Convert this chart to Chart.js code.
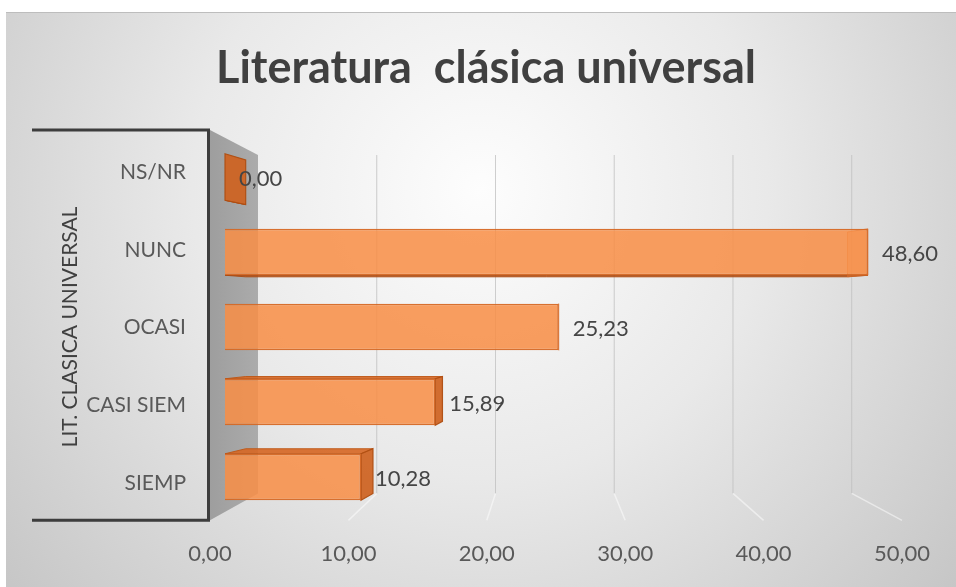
<!DOCTYPE html>
<html>
<head>
<meta charset="utf-8">
<script src="https://cdn.jsdelivr.net/npm/chart.js@4.4.1/dist/chart.umd.min.js"></script>
<style>
  html, body { margin: 0; padding: 0; background: #ffffff; }
  #c { display: block; }
</style>
</head>
<body>
<canvas id="c" width="956" height="587"></canvas>
<script>
// ---- data ----
const categories = ['NS/NR', 'NUNC', 'OCASI', 'CASI SIEM', 'SIEMP'];
const values = [0.00, 48.60, 25.23, 15.89, 10.28];
const xTicks = [0, 10, 20, 30, 40, 50];
const chartTitle = 'Literatura  clásica universal';
const axisTitle = 'LIT. CLASICA UNIVERSAL';

// ---- 3D look (perspective helpers) ----
const VP = { x: 548, y: 318 };                 // vanishing point
const WALL_RATIO = { x: 0.858, y: 0.867 };     // front plane -> back wall
const BAR_RATIO = { x: 0.936, y: 0.963 };      // bar front -> bar back
function proj(p, r) { return { x: VP.x + (p.x - VP.x) * r.x, y: VP.y + (p.y - VP.y) * r.y }; }
function quad(ctx, pts, fill, stroke, lw) {
  ctx.beginPath();
  ctx.moveTo(pts[0].x, pts[0].y);
  for (let i = 1; i < pts.length; i++) ctx.lineTo(pts[i].x, pts[i].y);
  ctx.closePath();
  if (fill) { ctx.fillStyle = fill; ctx.fill(); }
  if (stroke) { ctx.strokeStyle = stroke; ctx.lineWidth = lw || 1; ctx.stroke(); }
}
const fmt = v => v.toFixed(2).replace('.', ',');

const scenePlugin = {
  id: 'scene',
  beforeDraw(chart) {
    const ctx = chart.ctx;
    const W = chart.width, H = chart.height;
    ctx.save();
    ctx.fillStyle = '#ffffff';
    ctx.fillRect(0, 0, W, H);
    const g = ctx.createRadialGradient(480, 190, 0, 480, 190, 640);
    g.addColorStop(0, '#fdfdfd');
    g.addColorStop(0.45, '#e9e9e9');
    g.addColorStop(1, '#c4c4c4');
    ctx.fillStyle = g;
    ctx.fillRect(6, 12, W - 6, H - 12);
    ctx.strokeStyle = '#bdbdbd';
    ctx.lineWidth = 1;
    ctx.beginPath(); ctx.moveTo(6, 12.5); ctx.lineTo(W, 12.5); ctx.stroke();

    const xs = chart.scales.x2, ys = chart.scales.y2;
    const fx = xs.getPixelForValue(0);
    const top = ys.getPixelForValue(-0.54);
    const bot = ys.getPixelForValue(categories.length - 0.52);

    // back-wall and floor grid lines
    xTicks.forEach(v => {
      if (v === 0) return;
      const px = xs.getPixelForValue(v);
      const bt = proj({ x: px, y: top }, WALL_RATIO);
      const bb = proj({ x: px, y: bot }, WALL_RATIO);
      ctx.strokeStyle = 'rgba(190,190,190,0.75)';
      ctx.lineWidth = 1;
      ctx.beginPath(); ctx.moveTo(bt.x, bt.y); ctx.lineTo(bb.x, bb.y); ctx.stroke();
      ctx.strokeStyle = 'rgba(255,255,255,0.5)';
      ctx.lineWidth = 1.5;
      ctx.beginPath(); ctx.moveTo(bb.x, bb.y); ctx.lineTo(px, bot); ctx.stroke();
    });

    // side wall (gray)
    const ft = { x: fx, y: top }, fb = { x: fx, y: bot };
    const bt = proj(ft, WALL_RATIO), bb = proj(fb, WALL_RATIO);
    const wg = ctx.createLinearGradient(fx, 0, bt.x, 0);
    wg.addColorStop(0, '#9e9e9e');
    wg.addColorStop(1, '#ababab');
    quad(ctx, [ft, bt, bb, fb], wg);

    // multi-level category bracket
    ctx.strokeStyle = '#3d3d3d';
    ctx.lineWidth = 3;
    ctx.beginPath();
    ctx.moveTo(32, top); ctx.lineTo(fx - 1, top);
    ctx.moveTo(fx - 1.5, top - 1.5); ctx.lineTo(fx - 1.5, bot + 1.5);
    ctx.moveTo(32, bot); ctx.lineTo(fx - 1, bot);
    ctx.stroke();
    ctx.restore();
  },
  beforeDatasetsDraw(chart) {
    const ctx = chart.ctx;
    const meta = chart.getDatasetMeta(0);
    ctx.save();
    meta.data.forEach(el => {
      const p = el.getProps(['x', 'y', 'base', 'height'], true);
      const t = p.y - p.height / 2, b = p.y + p.height / 2;
      const xl = Math.min(p.x, p.base), xr = Math.max(p.x, p.base);
      const F = { tl: { x: xl, y: t }, tr: { x: xr, y: t }, br: { x: xr, y: b }, bl: { x: xl, y: b } };
      const B = { tl: proj(F.tl, BAR_RATIO), tr: proj(F.tr, BAR_RATIO), br: proj(F.br, BAR_RATIO), bl: proj(F.bl, BAR_RATIO) };
      if (B.tl.y < F.tl.y) quad(ctx, [F.tl, F.tr, B.tr, B.tl], 'rgba(214,104,38,0.92)', 'rgba(190,85,20,0.9)', 1);
      if (B.bl.y > F.bl.y) quad(ctx, [F.bl, F.br, B.br, B.bl], 'rgba(186,82,20,0.92)', 'rgba(170,72,15,0.9)', 1);
      if (B.tr.x > F.tr.x) {
        quad(ctx, [F.tr, B.tr, B.br, F.br], 'rgba(206,98,32,0.92)', 'rgba(175,78,18,0.95)', 1.2);
      } else {
        // end face hidden behind the translucent front face: only its far edge shows through
        quad(ctx, [F.tr, B.tr, B.br, F.br], 'rgba(240,128,55,0.35)', 'rgba(215,105,40,0.6)', 1);
      }
    });
    ctx.restore();
  },
  afterDatasetsDraw(chart) {
    const ctx = chart.ctx;
    const meta = chart.getDatasetMeta(0);
    ctx.save();
    ctx.font = '22px Lato';
    ctx.fillStyle = '#454545';
    ctx.textAlign = 'left';
    ctx.textBaseline = 'middle';
    meta.data.forEach((el, i) => {
      ctx.fillText(fmt(values[i]), el.x + 14, el.y + 2);
    });
    ctx.restore();
  }
};

new Chart(document.getElementById('c'), {
  type: 'bar',
  data: {
    labels: categories,
    datasets: [{
      data: values,
      xAxisID: 'x',
      yAxisID: 'y',
      backgroundColor: 'rgba(248,142,70,0.86)',
      borderColor: 'rgba(214,104,36,0.95)',
      borderWidth: 1.5,
      barPercentage: 0.62,
      categoryPercentage: 1.0
    }]
  },
  options: {
    indexAxis: 'y',
    responsive: false,
    animation: false,
    devicePixelRatio: 1,
    layout: { padding: { left: 70, right: 54, top: 12, bottom: 23 } },
    plugins: {
      legend: { display: false },
      tooltip: { enabled: false },
      title: {
        display: true,
        text: chartTitle,
        color: '#404040',
        font: { family: 'Lato', size: 45, weight: 'bold' },
        padding: { top: 29, bottom: 44.5 }
      }
    },
    scales: {
      x: { type: 'linear', display: false, bounds: 'data', min: -1.134, max: 51.17,
        afterBuildTicks: s => { s.min = -1.134; s.max = 51.17; } },
      y: { type: 'category', display: false, offset: true },
      x2: {
        type: 'linear', position: 'bottom', bounds: 'data', offset: false, min: 0, max: 50,
        grid: { display: false, drawTicks: false }, border: { display: false },
        afterBuildTicks: s => { s.ticks = xTicks.map(v => ({ value: v })); s.min = 0; s.max = 50; },
        afterFit: s => { s.height = 49.5; },
        ticks: { padding: 26, color: '#595959', font: { family: 'Lato', size: 22 }, callback: v => fmt(v) }
      },
      y2: {
        type: 'linear', position: 'left', reverse: true, bounds: 'data', offset: false, min: -0.418, max: 4.405,
        grid: { display: false, drawTicks: false }, border: { display: false },
        afterBuildTicks: s => { s.ticks = categories.map((c, i) => ({ value: i })); s.min = -0.418; s.max = 4.405; },
        afterFit: s => { s.width = 140; },
        ticks: { padding: 24, color: '#595959', font: { family: 'Lato', size: 21 }, callback: v => categories[v] },
        title: { display: true, text: axisTitle, color: '#404040', font: { family: 'Lato', size: 21 }, padding: { top: -12.6, bottom: 0 } }
      }
    }
  },
  plugins: [scenePlugin]
});
</script>
</body>
</html>
